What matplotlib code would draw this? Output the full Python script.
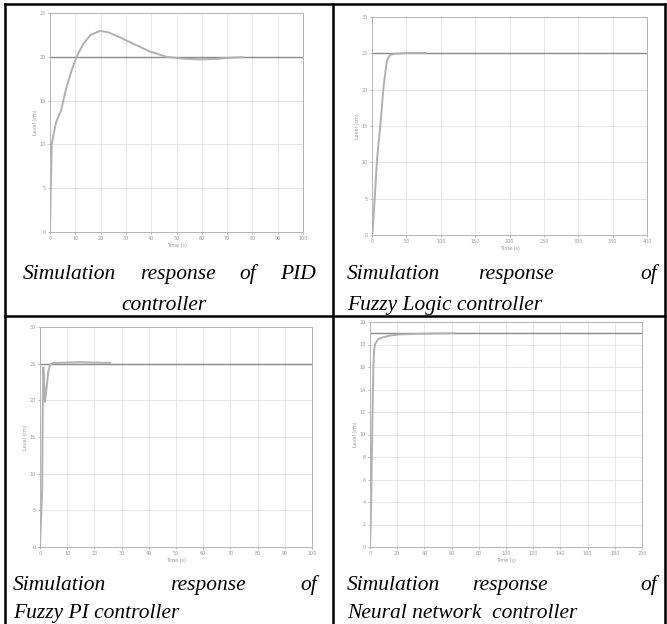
import numpy as np
import matplotlib
matplotlib.use("Agg")
import matplotlib.pyplot as plt
from matplotlib.lines import Line2D

W, H = 667, 624

# PID controller response
pid_t = [0, 0.3, 0.7, 1.5, 2.4, 3.5, 4.4, 5.5, 6.6, 8.5, 10.5, 13, 16, 19.8, 23, 27, 32.9, 39.5, 46, 52, 59, 65, 72, 76]
pid_y = [0, 5, 10, 11.3, 12.5, 13.3, 13.9, 15.3, 16.6, 18.4, 20.0, 21.4, 22.5, 22.95, 22.8, 22.3, 21.5, 20.6, 20.0, 19.8, 19.7, 19.75, 19.9, 19.95]
pid_sp = 20

# Fuzzy logic controller response
flc_t = [0, 1, 3.8, 7.2, 12, 16.8, 21.6, 26.4, 35, 43, 60, 77]
flc_y = [0, 0.5, 4.8, 10.3, 14.9, 20.4, 24.0, 24.8, 24.95, 25.0, 25.05, 25.05]
flc_sp = 25

# Fuzzy PI controller response
fpi_t = [0, 0.8, 1.0, 1.2, 1.5, 1.84, 2.5, 3.0, 3.7, 5, 10, 15, 20, 25.8]
fpi_y = [0, 8, 18, 24.5, 22.5, 19.8, 22.0, 23.8, 24.9, 25.1, 25.15, 25.2, 25.15, 25.1]
fpi_sp = 25

# Neural network controller response
nn_t = [0, 0.5, 1, 1.5, 2, 2.5, 3, 3.7, 5, 6.2, 10, 15, 22, 35, 50, 62]
nn_y = [0, 2, 5, 9, 13, 16, 17.5, 18.0, 18.3, 18.5, 18.65, 18.8, 18.9, 18.95, 18.98, 19.0]
nn_sp = 19

pid_xt = np.arange(0, 101, 10)
pid_yt = np.arange(0, 26, 5)
flc_xt = np.arange(0, 401, 50)
flc_yt = np.arange(0, 31, 5)
fpi_xt = np.arange(0, 101, 10)
fpi_yt = np.arange(0, 31, 5)
nn_xt = np.arange(0, 201, 20)
nn_yt = np.arange(0, 21, 2)

fig = plt.figure(figsize=(W / 100, H / 100), dpi=100)


def box(x0, y0, x1, y1):
    # pixel box (top-left origin) -> figure fractions
    return [x0 / W, 1 - y1 / H, (x1 - x0) / W, (y1 - y0) / H]


def panel(rect, t, y, sp, xt, yt):
    ax = fig.add_axes(box(*rect))
    ax.plot([xt[0], xt[-1]], [sp, sp], color="#8a8a8a", lw=1.0)
    ax.plot(t, y, color="#b0b0b0", lw=1.4)
    ax.set_xlim(xt[0], xt[-1])
    ax.set_ylim(yt[0], yt[-1])
    ax.set_xticks(xt)
    ax.set_yticks(yt)
    ax.grid(True, color="#e3e3e3", lw=0.6)
    ax.tick_params(labelsize=3.5, colors="#9a9a9a", length=1.5, width=0.5, pad=1.5)
    for s in ax.spines.values():
        s.set_color("#b5b5b5")
        s.set_linewidth(0.7)
    ax.set_xlabel("Time (s)", fontsize=3.5, color="#9a9a9a", labelpad=1)
    ax.set_ylabel("Level (cm)", fontsize=3.5, color="#9a9a9a", labelpad=1)
    return ax


panel((50, 13, 303, 232), pid_t, pid_y, pid_sp, pid_xt, pid_yt)
panel((372, 17, 647, 235), flc_t, flc_y, flc_sp, flc_xt, flc_yt)
panel((40, 327, 312, 547), fpi_t, fpi_y, fpi_sp, fpi_xt, fpi_yt)
panel((370, 322, 642, 547), nn_t, nn_y, nn_sp, nn_xt, nn_yt)

# table borders
def hline(y, x0, x1):
    fig.add_artist(Line2D([x0 / W, x1 / W], [1 - y / H, 1 - y / H], color="black", lw=1.8))


def vline(x, y0, y1):
    fig.add_artist(Line2D([x / W, x / W], [1 - y0 / H, 1 - y1 / H], color="black", lw=1.8))


hline(4, 5, 665)
hline(316, 5, 665)
vline(5, 4, 624)
vline(333, 4, 624)
vline(665, 4, 624)

cap = dict(fontsize=15.5, style="italic", family=["Liberation Serif", "DejaVu Serif"], color="black", va="baseline")
renderer = fig.canvas.get_renderer()


def txt(x, y, s, ha="left"):
    return fig.text(x / W, 1 - y / H, s, ha=ha, **cap)


def justify(x0, x1, y, words):
    # spread words over [x0, x1] with equal gaps, like a justified line
    items = [txt(0, y, w) for w in words]
    widths = [t.get_window_extent(renderer).width for t in items]
    gap = (x1 - x0 - sum(widths)) / (len(words) - 1)
    x = x0
    for t, w in zip(items, widths):
        t.set_x(x / W)
        x += w + gap


# row 1 captions
justify(23, 316, 279, ["Simulation", "response", "of", "PID"])
txt(164, 310, "controller", ha="center")
txt(347, 279, "Simulation")
txt(478, 279, "response")
txt(657, 279, "of", ha="right")
txt(347, 310, "Fuzzy Logic controller")

# row 2 captions
txt(13, 590, "Simulation")
txt(170, 590, "response")
txt(317, 590, "of", ha="right")
txt(13, 618, "Fuzzy PI controller")
txt(347, 590, "Simulation")
txt(472, 590, "response")
txt(657, 590, "of", ha="right")
txt(347, 618, "Neural network  controller")

fig.savefig("out.png", dpi=100)
